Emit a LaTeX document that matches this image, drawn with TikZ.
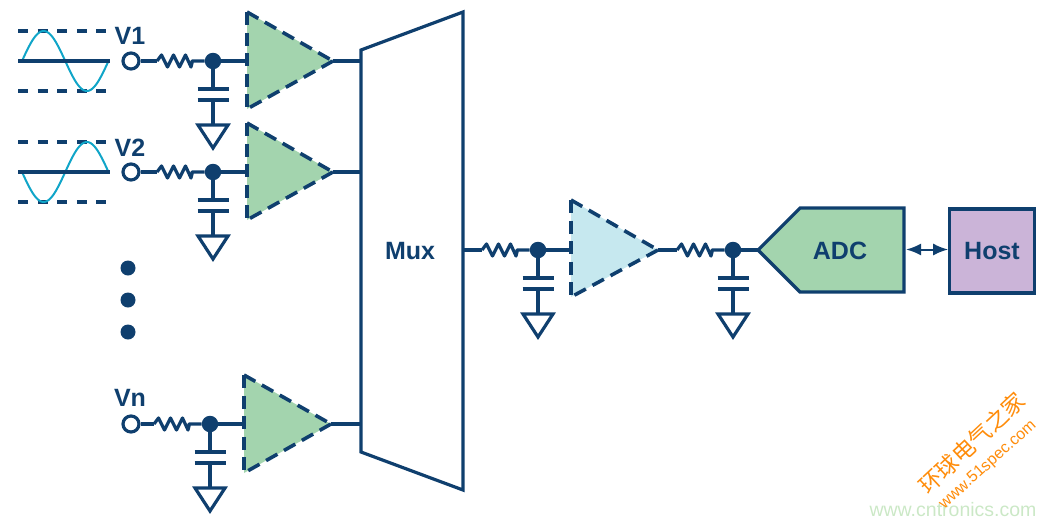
\documentclass[tikz,border=0pt]{standalone}
\usepackage{fontspec}
\setmainfont{Liberation Sans}
\newfontfamily\cjkfont{Noto Sans CJK SC}
\usetikzlibrary{arrows.meta}
\definecolor{navy}{HTML}{0F3F6E}
\definecolor{ampgreen}{HTML}{A3D4AE}
\definecolor{ampblue}{HTML}{C6E8EF}
\definecolor{hostpurple}{HTML}{CBB4D8}
\definecolor{sinecol}{HTML}{10A5C8}
\definecolor{wmorange}{HTML}{FF8C0A}
\definecolor{wmgreen}{HTML}{CBE8C6}
\tikzset{
  x=1pt,y=-1pt,
  wire/.style={draw=navy,line width=3.2pt,line join=miter},
  limit/.style={draw=navy,line width=3.2pt,dash pattern=on 10pt off 9.6pt},
  ampedge/.style={draw=navy,line width=3.6pt,dash pattern=on 13pt off 7.5pt},
  sine/.style={draw=sinecol,line width=2pt},
  term/.style={circle,draw=navy,line width=3.2pt,fill=white,minimum size=16pt,inner sep=0pt},
  junction/.style={circle,fill=navy,minimum size=16.5pt,inner sep=0pt},
  lab/.style={text=navy,font=\fontsize{25}{25}\selectfont\bfseries,inner sep=0pt},
  bigdot/.style={circle,fill=navy,minimum size=15pt,inner sep=0pt},
}
% RC: resistor into a dot, with capacitor and ground below it
\newcommand\rcnet[3]{%
  \begin{scope}[shift={(#2,#3)}]
    \node[junction] (#1dot) at (0,0) {};
    \coordinate (#1ra) at (-56,0);
    \coordinate (#1rb) at (-21,0);
    \coordinate (#1pa) at (0,28);
    \coordinate (#1pb) at (0,39);
    \coordinate (#1g) at (0,64);
    \draw[wire,line join=round] (#1ra) -- ++(4.5,-6) -- ++(6,12) -- ++(6,-12) -- ++(6,12) -- ++(6,-12) -- ++(5.5,12) -- ++(1.5,-6) -- (#1rb) -- (#1dot);
    \draw[wire] (#1dot) -- (#1pa);
    \draw[wire] (-15.5,28) -- (15.5,28);
    \draw[wire] (-15.5,39) -- (15.5,39);
    \draw[wire] (#1pb) -- (#1g);
    \draw[wire] (#1g) ++(-15,0) -- ++(30,0) -- ++(-15,23) -- cycle;
  \end{scope}}
% amplifier triangle: left x, top y, bottom y, apex x, fill, wire y
\newcommand\amp[7]{%
  \coordinate (#1t) at (#2,#3);
  \coordinate (#1b) at (#2,#4);
  \coordinate (#1i) at (#2,#7);
  \coordinate (#1o) at (#5,#7);
  \fill[#6] (#1t) -- (#1o) -- (#1b) -- cycle;
  \draw[ampedge] (#1t) -- (#1o);
  \draw[ampedge] (#1o) -- (#1b);
  \draw[ampedge] (#1t) -- (#1b);}
\begin{document}
\begin{tikzpicture}
\useasboundingbox (0,0) rectangle (1054,525);
% ---- Channel 1
\draw[limit] (18,31) -- (110,31);
\draw[limit] (18,91) -- (110,91);
\draw[sine] plot[domain=0:360,samples=60,smooth] ({22+\x/360*86.5},{61-30*sin(\x)});
\draw[wire] (18,61) -- (110,61);
\node[lab,anchor=base] at (130,44) {V1};
\node[term] (t1) at (131,61) {};
\rcnet{a}{213}{61}
\draw[wire] (t1) -- (ara);
\amp{A}{247}{12}{109}{333}{ampgreen}{61}
\draw[wire] (adot) -- (Ai);
% ---- Channel 2
\draw[limit] (18,142) -- (110,142);
\draw[limit] (18,202) -- (110,202);
\draw[sine] plot[domain=0:360,samples=60,smooth] ({22+\x/360*86.5},{172+30*sin(\x)});
\draw[wire] (18,172) -- (110,172);
\node[lab,anchor=base] at (130,156) {V2};
\node[term] (t2) at (131,172) {};
\rcnet{b}{213}{172}
\draw[wire] (t2) -- (bra);
\amp{B}{247}{123}{220}{333}{ampgreen}{172}
\draw[wire] (bdot) -- (Bi);
% ---- dots
\node[bigdot] (d1) at (128,268) {};
\node[bigdot] (d2) at (128,300) {};
\node[bigdot] (d3) at (128,332) {};
% ---- Channel n
\node[lab,anchor=base] at (130,406) {Vn};
\node[term] (t3) at (131,424) {};
\rcnet{c}{210}{424}
\draw[wire] (t3) -- (cra);
\amp{C}{244}{375}{473}{331}{ampgreen}{424}
\draw[wire] (cdot) -- (Ci);
% ---- Mux
\coordinate (mt) at (361,50);
\coordinate (mr) at (463,12);
\coordinate (mb) at (463,490);
\coordinate (ml) at (361,452);
\coordinate (mo) at (463,250);
\draw[wire] (Ao) -- (361,61);
\draw[wire] (Bo) -- (361,172);
\draw[wire] (Co) -- (361,424);
\draw[wire,fill=white] (mt) -- (mr) -- (mb) -- (ml) -- cycle;
\node[lab] (mux) at (410,251) {Mux};
% ---- Output chain
\rcnet{d}{538}{250}
\draw[wire] (mo) -- (dra);
\amp{D}{571}{200}{297}{658}{ampblue}{250}
\draw[wire] (ddot) -- (Di);
\rcnet{e}{733}{250}
\draw[wire] (Do) -- (era);
\coordinate (ai) at (758,250);
\draw[wire] (edot) -- (ai);
\draw[wire,fill=ampgreen] (ai) -- (800,208) -- (904,208) -- (904,292) -- (800,292) -- cycle;
\node[lab] (adc) at (840,251) {ADC};
\node[draw=navy,line width=3.2pt,fill=hostpurple,minimum width=84.5pt,minimum height=84pt,inner sep=0pt,text=navy,font=\fontsize{25}{25}\selectfont\bfseries] (host) at (992,251) {Host};
\coordinate (arr) at (906,249.5);
\draw[draw=navy,line width=2pt,{Latex[length=15pt,width=12pt]}-{Latex[length=15pt,width=12pt]}] (arr) -- (host.west|-arr);
% ---- Watermarks
\node[text=wmgreen,font=\fontsize{19.5}{20}\selectfont,inner sep=0pt] (wm1) at (953,510) {www.cntronics.com};
\node[text=wmorange,font=\fontsize{16}{16}\selectfont,rotate=42,inner sep=0pt] (wm2) at (988,465) {www.51spec.com};
\node[text=wmorange,font=\cjkfont\fontsize{22.5}{23}\selectfont,rotate=43,inner sep=0pt] (wm3) at (972,443) {环球电气之家};
\end{tikzpicture}
\end{document}
